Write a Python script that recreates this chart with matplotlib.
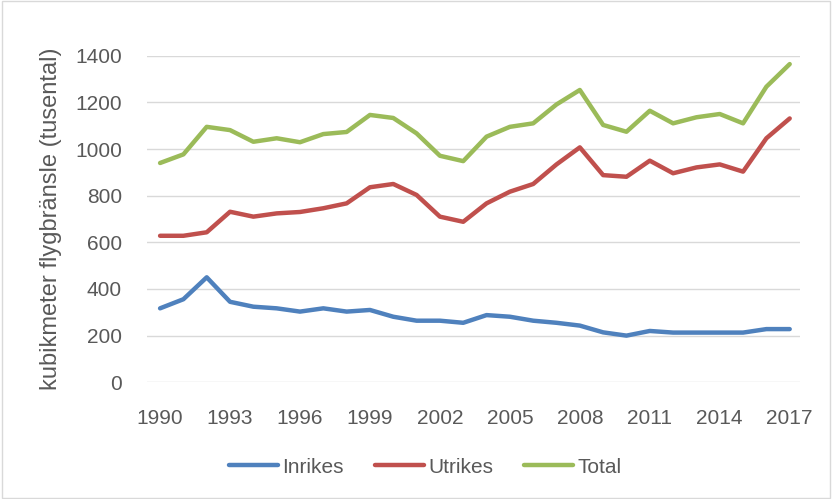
import matplotlib.pyplot as plt
import matplotlib.patches as patches

years = list(range(1990, 2018))

inrikes = [317, 356, 450, 345, 324, 317, 303, 317, 303, 310,
           281, 264, 264, 255, 288, 281, 264, 255, 243, 214,
           200, 220, 213, 213, 213, 213, 228, 228]
utrikes = [628, 628, 643, 731, 710, 724, 730, 746, 767, 836,
           850, 803, 710, 688, 767, 817, 850, 934, 1007, 888,
           881, 950, 896, 921, 934, 903, 1046, 1131]
total = [940, 977, 1095, 1081, 1031, 1046, 1029, 1064, 1073, 1146,
         1133, 1067, 971, 948, 1053, 1095, 1110, 1191, 1253, 1103,
         1074, 1164, 1110, 1136, 1150, 1110, 1267, 1364]

plt.rcParams['font.family'] = ['Liberation Sans', 'DejaVu Sans']

fig = plt.figure(figsize=(8.32, 4.99), dpi=100)
fig.patches.append(patches.Rectangle((0.002, 0.003), 0.996, 0.994, transform=fig.transFigure,
                                     fill=False, edgecolor='#d9d9d9', linewidth=1))
ax = fig.add_axes([0.1767, 0.2339, 0.7848, 0.6545])

ax.plot(years, inrikes, color='#4F81BD', lw=3.2, label='Inrikes', solid_capstyle='round')
ax.plot(years, utrikes, color='#C0504D', lw=3.2, label='Utrikes', solid_capstyle='round')
ax.plot(years, total, color='#9BBB59', lw=3.2, label='Total', solid_capstyle='round')

ax.set_xlim(1989.44, 2017.44)
ax.set_ylim(0, 1400)
ax.set_yticks(range(0, 1401, 200))
ax.set_xticks(range(1990, 2018, 3))
ax.grid(axis='y', color='#d9d9d9', lw=1)
ax.set_axisbelow(True)
for s in ax.spines.values():
    s.set_visible(False)
ax.tick_params(length=0, labelsize=15, colors='#595959')
ax.tick_params(axis='y', pad=18)
ax.tick_params(axis='x', pad=19)
ax.set_ylabel('kubikmeter flygbränsle (tusental)', fontsize=17, color='#595959')
ax.yaxis.set_label_coords(-0.13, 0.5)

fig.legend(*ax.get_legend_handles_labels(), loc='center', bbox_to_anchor=(0.511, 0.064), ncol=3,
           frameon=False, fontsize=15, labelcolor='#595959', handlelength=2.35,
           handletextpad=0.2, columnspacing=1.5)

fig.savefig('out.png', dpi=100)
